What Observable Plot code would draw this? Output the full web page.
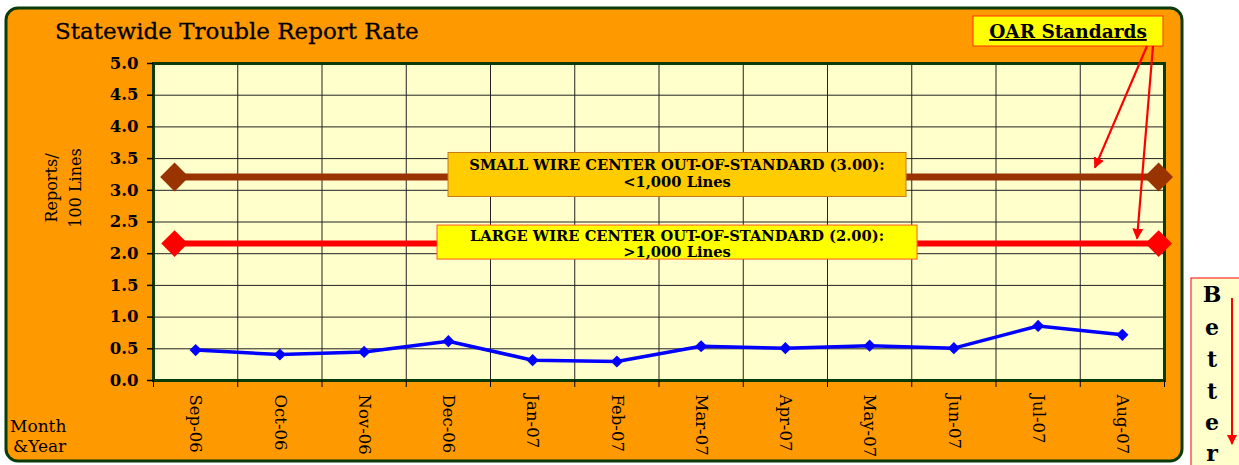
<!DOCTYPE html>
<html><head><meta charset="utf-8">
<script src="https://cdn.jsdelivr.net/npm/d3@7"></script>
<script src="https://cdn.jsdelivr.net/npm/@observablehq/plot@0.6"></script>
<style>
html,body{margin:0;padding:0;background:#fff;}
svg{display:block;}
</style></head>
<body><div id="chart"></div>
<script>
// ---- data ----
const months = ["Sep-06","Oct-06","Nov-06","Dec-06","Jan-07","Feb-07","Mar-07","Apr-07","May-07","Jun-07","Jul-07","Aug-07"];
const rates = [0.48, 0.41, 0.45, 0.62, 0.32, 0.30, 0.54, 0.51, 0.55, 0.51, 0.86, 0.72];
const yTicks = [0,0.5,1,1.5,2,2.5,3,3.5,4,4.5,5];
const stdNames = ["small", "large"];
const stdValues = [3.21, 2.16];
const stdExtent = [-0.25, 11.43];
const stdColors = ["#993300", "#FF0000"];
const stdLabels = [["SMALL WIRE CENTER OUT-OF-STANDARD (3.00):", "<1,000 Lines"],
                   ["LARGE WIRE CENTER OUT-OF-STANDARD (2.00):", ">1,000 Lines"]];

const idx = months.map((m,i)=>i);
const bounds = d3.range(-0.5, 12, 1);
const series = months.map((m,i)=>({i, v: rates[i]}));
const stdRows = [];
stdNames.forEach((n,k)=>stdExtent.forEach(x=>stdRows.push({name:n, x, v: stdValues[k], color: stdColors[k]})));

const F = "DejaVu Serif";
const plot = Plot.plot({
  width: 1239, height: 465,
  marginLeft: 153, marginRight: 75, marginTop: 63, marginBottom: 85,
  style: {background: "transparent", fontFamily: F, overflow: "visible", color: "#000"},
  x: {type: "linear", domain: [-0.5, 11.5], axis: null, label: null},
  y: {domain: [0, 5], axis: null, label: null},
  marks: [
    Plot.frame({fill: "#FFFFCC", stroke: null}),
    Plot.ruleY(yTicks, {stroke: "#222", strokeWidth: 1}),
    Plot.ruleX(bounds, {stroke: "#222", strokeWidth: 1}),
    Plot.frame({stroke: "#0B3B0B", strokeWidth: 3}),
    Plot.axisY(yTicks, {label: null, tickFormat: d3.format(".1f"), tickSize: 6, tickPadding: 9, fontSize: 16.5, fontWeight: "bold", stroke: "#000", strokeWidth: 1.5}),
    Plot.axisX(bounds, {label: null, tickFormat: () => "", tickSize: 7, stroke: "#000"}),
    Plot.axisX(idx, {label: null, tickFormat: i => months[i], tickSize: 0, tickPadding: 14, tickRotate: 90, fontSize: 16.5}),
    Plot.line(stdRows.filter(d=>d.name==="small"), {x: "x", y: "v", stroke: stdColors[0], strokeWidth: 7}),
    Plot.line(stdRows.filter(d=>d.name==="large"), {x: "x", y: "v", stroke: stdColors[1], strokeWidth: 6}),
    Plot.dot(stdRows.filter(d=>d.name==="small"), {x: "x", y: "v", symbol: "diamond2", r: 13, fill: stdColors[0], stroke: null}),
    Plot.dot(stdRows.filter(d=>d.name==="large"), {x: "x", y: "v", symbol: "diamond2", r: 12, fill: stdColors[1], stroke: null}),
    Plot.line(series, {x: "i", y: "v", stroke: "#0000FF", strokeWidth: 3.5}),
    Plot.dot(series, {x: "i", y: "v", symbol: "diamond2", r: 5.5, fill: "#0000FF", stroke: null})
  ]
});
document.getElementById("chart").appendChild(plot);

const svg = d3.select(plot);
const xs = plot.scale("x"), ys = plot.scale("y");
const X = v => xs.apply(v), Y = v => ys.apply(v);
const txt = (x, y, t, o = {}) => svg.append("text").attr("x", x).attr("y", y)
  .attr("text-anchor", o.anchor || "start").attr("font-family", F)
  .attr("font-size", o.size || 16).attr("font-weight", o.weight || "normal")
  .attr("fill", "#000").attr("text-decoration", o.deco || null).text(t);

// background orange panel (behind everything)
svg.insert("rect", ":first-child")
  .attr("x", 6).attr("y", 8).attr("width", 1176).attr("height", 453)
  .attr("rx", 12).attr("ry", 12)
  .attr("fill", "#FF9900").attr("stroke", "#0B3B0B").attr("stroke-width", 3);

// title
txt(55, 39, "Statewide Trouble Report Rate", {size: 23}).attr("stroke", "#000").attr("stroke-width", 0.3);

// y axis title
[["Reports/", 57], ["100 Lines", 81]].forEach(([t, x]) => {
  svg.append("text").attr("transform", `translate(${x},188) rotate(-90)`)
    .attr("text-anchor", "middle").attr("font-family", F).attr("font-size", 16).text(t);
});
// Month & Year
txt(10, 432, "Month", {size: 17});
txt(13, 452, "&Year", {size: 17});

// standard label boxes
const boxSpecs = [
  {cx: 5.72, y: stdValues[0], w: 458, h: 44, dy: -2, fill: "#FFCC00", stroke: "#C8781E", lines: stdLabels[0], base: [-4, 13]},
  {cx: 5.72, y: stdValues[1], w: 480, h: 34, dy: -1, fill: "#FFFF00", stroke: "#FF5A1E", lines: stdLabels[1], base: [-1, 15]}
];
boxSpecs.forEach(b => {
  const cx = X(b.cx), cy = Y(b.y) + b.dy;
  svg.append("rect").attr("x", cx - b.w/2).attr("y", cy - b.h/2).attr("width", b.w).attr("height", b.h)
    .attr("fill", b.fill).attr("stroke", b.stroke).attr("stroke-width", 1);
  b.lines.forEach((t, k) => txt(cx, cy + b.base[k], t, {anchor: "middle", weight: "bold", size: 14.7}));
});

// OAR Standards box
svg.append("rect").attr("x", 973).attr("y", 16).attr("width", 190).attr("height", 30)
  .attr("fill", "#FFFF00").attr("stroke", "#FF3300").attr("stroke-width", 1);
txt(1068, 38, "OAR Standards", {anchor: "middle", weight: "bold", size: 18.5, deco: "underline"});

// arrows from OAR box to lines
const defs = svg.append("defs");
defs.append("marker").attr("id", "ah").attr("viewBox", "0 0 10 10").attr("refX", 9).attr("refY", 5)
  .attr("markerWidth", 5).attr("markerHeight", 5).attr("orient", "auto")
  .append("path").attr("d", "M0,0L10,5L0,10z").attr("fill", "#FF0000");
[[1147, 46, X(10.68), Y(3.35)], [1153, 46, X(11.18), Y(2.23)]].forEach(([x1,y1,x2,y2]) => {
  svg.append("line").attr("x1", x1).attr("y1", y1).attr("x2", x2).attr("y2", y2)
    .attr("stroke", "#FF0000").attr("stroke-width", 2.2).attr("marker-end", "url(#ah)");
});

// Better box
svg.append("rect").attr("x", 1191).attr("y", 278).attr("width", 60).attr("height", 200)
  .attr("fill", "#FFFFCC").attr("stroke", "#FF0000").attr("stroke-width", 1);
const letters = ["B","e","t","t","e","r"];
const ly = [302, 335, 367, 399, 430, 461];
letters.forEach((c, k) => txt(1212, ly[k], c, {anchor: "middle", weight: "bold", size: 22}));
svg.append("line").attr("x1", 1232).attr("y1", 298).attr("x2", 1232).attr("y2", 444)
  .attr("stroke", "#FF0000").attr("stroke-width", 2).attr("marker-end", "url(#ah)");
</script>
</body></html>
